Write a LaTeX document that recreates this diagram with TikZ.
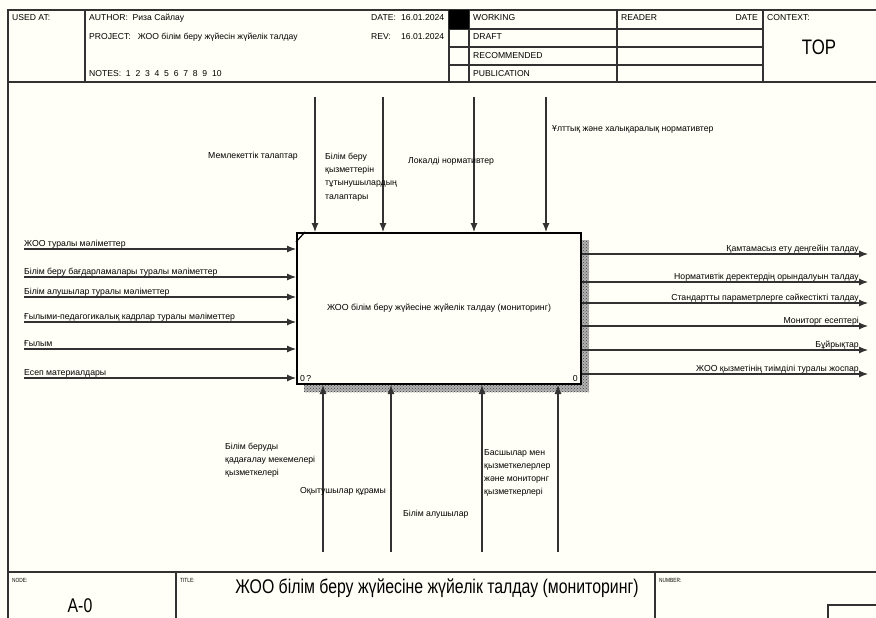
\documentclass[tikz,border=0pt]{standalone}
\usepackage{fontspec}
\setmainfont{Liberation Sans}
\newfontfamily\narrowfont[FakeStretch=0.8]{Liberation Sans}
\usetikzlibrary{arrows.meta,patterns}
\definecolor{bgc}{RGB}{255,255,247}
\definecolor{ln}{RGB}{50,50,50}
\begin{document}
\begin{tikzpicture}[x=1pt,y=-1pt,
  hd/.style={font=\fontsize{8.6}{10}\selectfont, inner sep=0pt, text=black},
  tiny/.style={font=\narrowfont\fontsize{6}{7}\selectfont, inner sep=0pt, text=black},
  big/.style={font=\narrowfont\fontsize{19.8}{22}\selectfont, inner sep=0pt, text=black},
  lbl/.style={font=\fontsize{8.7}{13.2}\selectfont, inner sep=0pt, text=black},
  mlbl/.style={lbl, align=left, anchor=north west},
  frm/.style={draw=ln, line width=1.2pt},
  arr/.style={draw=ln, line width=1.1pt, -{Latex[length=9pt,width=7pt]}}
]
\useasboundingbox (0,0) rectangle (876,618);
\fill[bgc] (0,0) rectangle (876,618);

% ---------- header ----------
\draw[frm] (8,618) -- (8,10) -- (876,10);
\draw[frm] (8,82) -- (876,82);
\foreach \xx in {85,449,469,617,763} \draw[frm] (\xx,10) -- (\xx,82);
\foreach \yy in {29,47,65} \draw[frm] (449,\yy) -- (763,\yy);
\fill[black] (449,10) rectangle (469,29);

\node[hd, anchor=base west] (usedat) at (12,21) {USED AT:};
\node[hd, anchor=base west] (author) at (89,21) {AUTHOR:\ \ Риза Сайлау};
\node[hd, anchor=base west] (project) at (89,40) {PROJECT:\ \ \ ЖОО білім беру жүйесін жүйелік талдау};
\node[hd, anchor=base west] (notes) at (89,77) {NOTES:\ \ 1\ \ 2\ \ 3\ \ 4\ \ 5\ \ 6\ \ 7\ \ 8\ \ 9\ \ 10};
\node[hd, anchor=base west] (date) at (371,21) {DATE:};
\node[hd, anchor=base west] (datev) at (401,21) {16.01.2024};
\node[hd, anchor=base west] (rev) at (371,40) {REV:};
\node[hd, anchor=base west] (revv) at (401,40) {16.01.2024};
\node[hd, anchor=base west] (working) at (473,21) {WORKING};
\node[hd, anchor=base west] (draft) at (473,40) {DRAFT};
\node[hd, anchor=base west] (recom) at (473,59) {RECOMMENDED};
\node[hd, anchor=base west] (publ) at (473,77) {PUBLICATION};
\node[hd, anchor=base west] (reader) at (621,21) {READER};
\node[hd, anchor=base east] (rdate) at (758,21) {DATE};
\node[hd, anchor=base west] (context) at (767,21) {CONTEXT:};
\node[big, anchor=center, font=\narrowfont\fontsize{21}{24}\selectfont] (top) at (819,47) {TOP};

% ---------- activity box ----------
\fill[black!30] (304,240) rectangle (589,392);
\fill[pattern=crosshatch dots, pattern color=black!75] (304,240) rectangle (589,392);
\node[draw=black, line width=2pt, fill=bgc, minimum width=284pt, minimum height=151pt,
      anchor=north west, inner sep=0pt, font=\fontsize{8.8}{10}\selectfont] (box) at (296,232)
      {ЖОО білім беру жүйесіне жүйелік талдау (мониторинг)};
\draw[line width=1.2pt] ([yshift=-10pt]box.north west) -- ([xshift=9pt]box.north west);
\node[lbl, anchor=base west] (num) at ([xshift=4pt,yshift=4pt]box.south west) {0\,?};
\node[lbl, anchor=base east] (num2) at ([xshift=-4pt,yshift=4pt]box.south east) {0};

% ---------- inputs ----------
\foreach \n/\yy/\t in {1/249/{ЖОО туралы мәліметтер},
                       2/277/{Білім беру бағдарламалары туралы мәліметтер},
                       3/297/{Білім алушылар туралы мәліметтер},
                       4/322/{Ғылыми-педагогикалық кадрлар туралы мәліметтер},
                       5/349/{Ғылым},
                       6/378/{Есеп материалдары}} {
  \coordinate (i\n) at (24,\yy);
  \draw[arr] (i\n) -- (i\n -| box.west);
  \node[lbl, anchor=base west] (li\n) at ([yshift=3pt]i\n) {\t};
}

% ---------- outputs ----------
\foreach \n/\yy/\t in {1/254/{Қамтамасыз ету деңгейін талдау},
                       2/282/{Нормативтік деректердің орындалуын талдау},
                       3/303/{Стандартты параметрлерге сәйкестікті талдау},
                       4/326/{Мониторг есептері},
                       5/350/{Бұйрықтар},
                       6/374/{ЖОО қызметінің тиімділі туралы жоспар}} {
  \coordinate (o\n) at (868,\yy);
  \draw[arr] (o\n -| box.east) -- (o\n);
  \node[lbl, anchor=base east] (lo\n) at ([xshift=-9pt,yshift=3pt]o\n) {\t};
}

% ---------- controls ----------
\foreach \n/\xx in {1/315,2/383,3/474,4/546} {
  \coordinate (c\n) at (\xx,97);
  \draw[arr] (c\n) -- (c\n |- box.north);
}
\node[lbl, anchor=base west] (lc1) at (208,158) {Мемлекеттік талаптар};
\node[mlbl] (lc2) at (325,153) {Білім беру\\қызметтерін\\тұтынушылардың\\талаптары};
\node[lbl, anchor=base west] (lc3) at (408,163) {Локалді нормативтер};
\node[lbl, anchor=base west] (lc4) at (552,131) {Ұлттық және халықаралық нормативтер};

% ---------- mechanisms ----------
\foreach \n/\xx in {1/323,2/391,3/482,4/558} {
  \coordinate (m\n) at (\xx,552);
  \draw[arr] (m\n) -- (m\n |- box.south);
}
\node[mlbl] (lm1) at (225,443) {Білім беруды\\қадағалау мекемелері\\қызметкелері};
\node[lbl, anchor=base west] (lm2) at (300,493) {Оқытушылар құрамы};
\node[lbl, anchor=base west] (lm3) at (403,516) {Білім алушылар};
\node[mlbl] (lm4) at (484,449) {Басшылар мен\\қызметкелерлер\\және мониторнг\\қызметкерлері};

% ---------- footer ----------
\draw[frm] (8,572) -- (876,572);
\draw[frm] (176,572) -- (176,618);
\draw[frm] (655,572) -- (655,618);
\draw[frm] (876,605) -- (828,605) -- (828,618);
\node[tiny, anchor=base west] (nodel) at (12,582) {NODE:};
\node[tiny, anchor=base west] (titlel) at (180,582) {TITLE:};
\node[tiny, anchor=base west] (numl) at (659,582) {NUMBER:};
\node[big, anchor=center] (a0) at (80,606) {A-0};
\node[big, anchor=center] (title) at (437,588) {ЖОО білім беру жүйесіне жүйелік талдау (мониторинг)};
\end{tikzpicture}
\end{document}
